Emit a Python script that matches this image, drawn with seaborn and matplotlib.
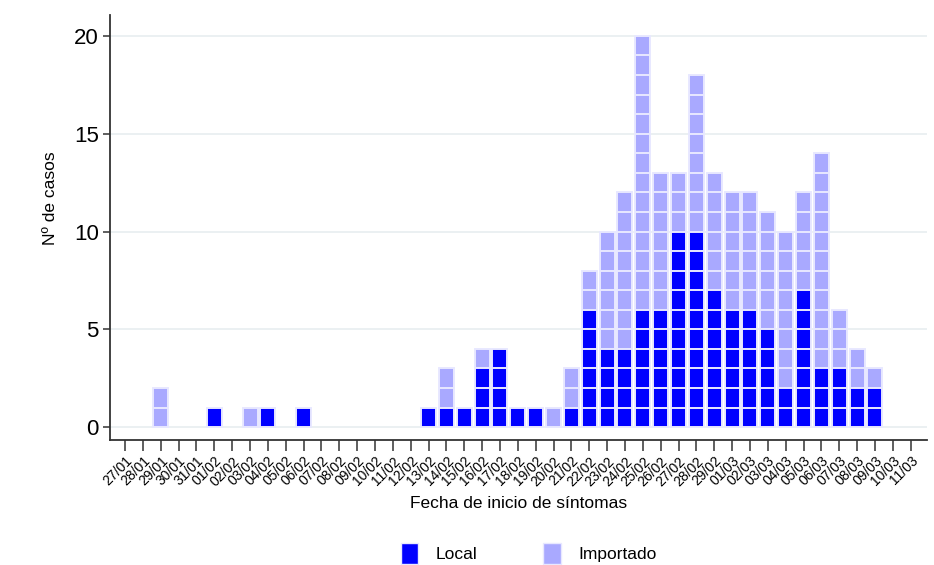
import pandas as pd
import seaborn as sns
import matplotlib.pyplot as plt
from matplotlib.patches import Patch

fechas = ["27/01", "28/01", "29/01", "30/01", "31/01",
          "01/02", "02/02", "03/02", "04/02", "05/02", "06/02", "07/02",
          "08/02", "09/02", "10/02", "11/02", "12/02", "13/02", "14/02",
          "15/02", "16/02", "17/02", "18/02", "19/02", "20/02", "21/02",
          "22/02", "23/02", "24/02", "25/02", "26/02", "27/02", "28/02",
          "29/02", "01/03", "02/03", "03/03", "04/03", "05/03", "06/03",
          "07/03", "08/03", "09/03", "10/03", "11/03"]
local = [0, 0, 0, 0, 0,
         1, 0, 0, 1, 0, 1, 0,
         0, 0, 0, 0, 0, 1, 1,
         1, 3, 4, 1, 1, 0, 1,
         6, 4, 4, 6, 6, 10, 10,
         7, 6, 6, 5, 2, 7, 3,
         3, 2, 2, 0, 0]
importado = [0, 0, 2, 0, 0,
             0, 0, 1, 0, 0, 0, 0,
             0, 0, 0, 0, 0, 0, 2,
             0, 1, 0, 0, 0, 1, 2,
             2, 6, 8, 14, 7, 3, 8,
             6, 6, 6, 6, 8, 5, 11,
             3, 2, 1, 0, 0]
tipos = ["Local", "Importado"]
colores = {"Local": "#0000ff", "Importado": "#a9a9ff"}
borde = "#e8e8ff"

# one row per case, stacked: locals first, imported on top
filas = []
for f, nl, ni in zip(fechas, local, importado):
    for k in range(nl + ni):
        filas.append({"fecha": f, "nivel": k + 1,
                      "tipo": "Local" if k < nl else "Importado"})
casos = pd.DataFrame(filas)

sns.set_style("white")
plt.rcParams["font.family"] = ["Liberation Sans", "DejaVu Sans"]
plt.rcParams["text.color"] = "black"
plt.rcParams["axes.labelcolor"] = "black"
plt.rcParams["xtick.color"] = "black"
plt.rcParams["ytick.color"] = "black"

fig = plt.figure(figsize=(9.34, 5.65), dpi=100)
ax = fig.add_axes([0.1178, 0.2212, 0.875, 0.7523])

# draw from the top level down so each lower square covers the bar below it
for k in range(casos["nivel"].max(), 0, -1):
    sub = casos[casos["nivel"] == k]
    sns.barplot(data=sub, x="fecha", y="nivel", hue="tipo", order=fechas,
                hue_order=tipos, palette=colores, dodge=False, width=0.84,
                saturation=1, edgecolor=borde, linewidth=1.4, errorbar=None,
                legend=False, ax=ax, zorder=2)

ax.set_xlim(-0.84, 44.93)
ax.set_ylim(-0.66, 21.07)
ax.set_yticks([0, 5, 10, 15, 20])
ax.yaxis.grid(True, color="#e8eef0", linewidth=1.2)
ax.set_axisbelow(True)

for s in ["top", "right"]:
    ax.spines[s].set_visible(False)
for s in ["left", "bottom"]:
    ax.spines[s].set_color("#333333")
    ax.spines[s].set_linewidth(1.3)

ax.tick_params(axis="y", labelsize=16, length=5, width=1.1, color="#333333", pad=3, left=True)
ax.tick_params(axis="x", labelsize=10, length=8, width=1.1, color="#333333", pad=2, bottom=True)
plt.setp(ax.get_xticklabels(), rotation=45, ha="right", rotation_mode="anchor")

ax.set_xlabel("Fecha de inicio de síntomas", fontsize=12.5, labelpad=5)
ax.set_ylabel("Nº de casos", fontsize=12.5)
ax.yaxis.set_label_coords(-0.064, 0.57)

handles = [Patch(facecolor=colores[t], edgecolor=borde, label=t) for t in tipos]
fig.legend(handles=handles, loc="lower center", bbox_to_anchor=(0.566, -0.025),
           ncol=2, frameon=False, fontsize=12.5, handlelength=1.0,
           handleheight=1.4, columnspacing=3.8, handletextpad=1.0)

fig.savefig("out.png", dpi=100)
